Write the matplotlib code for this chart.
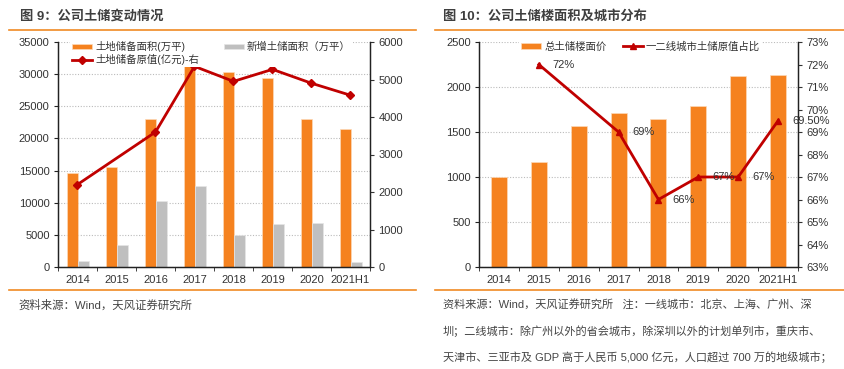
import matplotlib
matplotlib.use('Agg')
import matplotlib.pyplot as plt
import numpy as np
from matplotlib.ticker import FuncFormatter, FixedLocator

plt.rcParams['font.family'] = ['Liberation Sans', 'Noto Sans CJK SC']
plt.rcParams['axes.unicode_minus'] = False

years = ['2014', '2015', '2016', '2017', '2018', '2019', '2020', '2021H1']

# figure 9
land_area = [14600, 15600, 23000, 31200, 30300, 29400, 23100, 21400]
new_area = [900, 3500, 10200, 12600, 5000, 6700, 6900, 800]
land_value = [2200, None, 3600, 5350, 4950, 5270, 4900, 4580]

# figure 10
floor_price = [1000, 1170, 1570, 1710, 1640, 1790, 2120, 2130]
tier12_share = [None, 72, None, 69, 66, 67, 67, 69.5]
share_labels = ['', '72%', '', '69%', '66%', '67%', '67%', '69.50%']

ORANGE = '#F5821F'
GRAY = '#BFBFBF'
RED = '#C00000'
TXT = '#333333'

W, H = 845, 369
fig = plt.figure(figsize=(W / 100, H / 100), dpi=100)


def px(x0, y0, x1, y1):
    return [x0 / W, 1 - y1 / H, (x1 - x0) / W, (y1 - y0) / H]


def style_axes(ax, ax2):
    n = len(years)
    ax.set_xlim(-0.5, n - 0.5)
    ax.set_xticks(range(n))
    ax.set_xticklabels(years)
    ax.xaxis.set_minor_locator(FixedLocator(np.arange(-0.5, n, 1)))
    ax.tick_params(axis='x', which='major', length=0, labelsize=8, colors=TXT, pad=6)
    ax.tick_params(axis='x', which='minor', length=3, direction='out', color='#222')
    ax.tick_params(axis='y', length=3, direction='out', labelsize=8, colors=TXT, pad=3)
    ax2.tick_params(axis='y', length=3, direction='out', labelsize=8, colors=TXT, pad=3)
    for a in (ax, ax2):
        a.spines['top'].set_visible(False)
        for s in ('left', 'right', 'bottom'):
            a.spines[s].set_color('#222')
            a.spines[s].set_linewidth(0.9)
    ax.tick_params(axis='y', colors='#222', labelcolor=TXT)
    ax.grid(axis='y', linestyle=(0, (1, 1.5)), color='#BBBBBB', linewidth=0.8)
    ax.set_axisbelow(True)


def white_legend(leg):
    leg.get_frame().set_facecolor('white')
    leg.get_frame().set_edgecolor('none')
    leg.get_frame().set_alpha(1)
    for t in leg.get_texts():
        t.set_color(TXT)


# ---------- left panel ----------
ax1 = fig.add_axes(px(58, 42, 370, 267))
x = np.arange(len(years))
b1 = ax1.bar(x - 0.135, land_area, width=0.28, color=ORANGE, edgecolor='#FCD9B8', linewidth=0.5,
             label='土地储备面积(万平)')
b2 = ax1.bar(x + 0.145, new_area, width=0.28, color=GRAY, edgecolor='#E6E6E6', linewidth=0.5,
             label='新增土储面积（万平）')
ax1.set_ylim(0, 35000)
ax1.set_yticks(range(0, 35001, 5000))
ax1r = ax1.twinx()
lx = [i for i, v in enumerate(land_value) if v is not None]
ly = [v for v in land_value if v is not None]
l1, = ax1r.plot(lx, ly, color=RED, linewidth=2.0, marker='D', markersize=4,
                label='土地储备原值(亿元)-右')
ax1r.set_ylim(0, 6000)
ax1r.set_yticks(range(0, 6001, 1000))
style_axes(ax1, ax1r)
# column-first fill: orange + line in column 1, gray in column 2
leg = ax1r.legend([b1, l1, b2], [b1.get_label(), l1.get_label(), b2.get_label()],
                  ncol=2, loc='upper left', bbox_to_anchor=(65 / W, 1 - 34 / H),
                  bbox_transform=fig.transFigure, frameon=True, fontsize=7.5,
                  handlelength=1.9, handleheight=0.45, handletextpad=0.3,
                  columnspacing=2.4, labelspacing=0.15, borderpad=0.2)
white_legend(leg)

# ---------- right panel ----------
ax2 = fig.add_axes(px(479, 42, 798, 267))
b3 = ax2.bar(x, floor_price, width=0.4, color=ORANGE, edgecolor='#FCD9B8', linewidth=0.5,
             label='总土储楼面价')
ax2.set_ylim(0, 2500)
ax2.set_yticks(range(0, 2501, 500))
ax2r = ax2.twinx()
sx = [i for i, v in enumerate(tier12_share) if v is not None]
sy = [v for v in tier12_share if v is not None]
l2, = ax2r.plot(sx, sy, color=RED, linewidth=2.0, marker='^', markersize=5,
                label='一二线城市土储原值占比')
for i, v in enumerate(tier12_share):
    if v is not None:
        ax2r.annotate(share_labels[i], (i, v), xytext=(10, 0), textcoords='offset points',
                      ha='left', va='center', fontsize=8, color=TXT)
ax2r.set_ylim(63, 73)
ax2r.set_yticks(range(63, 74))
ax2r.yaxis.set_major_formatter(FuncFormatter(lambda v, p: f'{v:.0f}%'))
style_axes(ax2, ax2r)
leg2 = ax2r.legend([b3, l2], [b3.get_label(), l2.get_label()], ncol=2, loc='upper left',
                   bbox_to_anchor=(514 / W, 1 - 34 / H), bbox_transform=fig.transFigure,
                   frameon=True, fontsize=7.5, handlelength=1.9, handleheight=0.45,
                   handletextpad=0.3, columnspacing=1.6, borderpad=0.2)
white_legend(leg2)

# ---------- titles, rules and notes ----------
fig.text(20 / W, 1 - 16 / H, '图 9：公司土储变动情况', fontsize=9.5, fontweight='bold',
         color='#3F3F3F', va='center', ha='left')
fig.text(443 / W, 1 - 16 / H, '图 10：公司土储楼面积及城市分布', fontsize=9.5, fontweight='bold',
         color='#3F3F3F', va='center', ha='left')
for x0, x1 in ((9, 416), (435, 845)):
    for y in (30, 290):
        fig.add_artist(plt.Line2D([x0 / W, x1 / W], [1 - y / H, 1 - y / H], color='#F08A24',
                                  linewidth=1.2))

fig.text(18 / W, 1 - 305 / H, '资料来源：Wind，天风证券研究所', fontsize=8.2, color='#444444',
         va='center', ha='left')
notes = ['资料来源：Wind，天风证券研究所   注：一线城市：北京、上海、广州、深',
         '圳；二线城市：除广州以外的省会城市，除深圳以外的计划单列市，重庆市、',
         '天津市、三亚市及 GDP 高于人民币 5,000 亿元，人口超过 700 万的地级城市；']
for i, line in enumerate(notes):
    fig.text(443 / W, 1 - (305 + 26 * i) / H, line, fontsize=8, color='#444444',
             va='center', ha='left')

fig.savefig('out.png', dpi=100)
